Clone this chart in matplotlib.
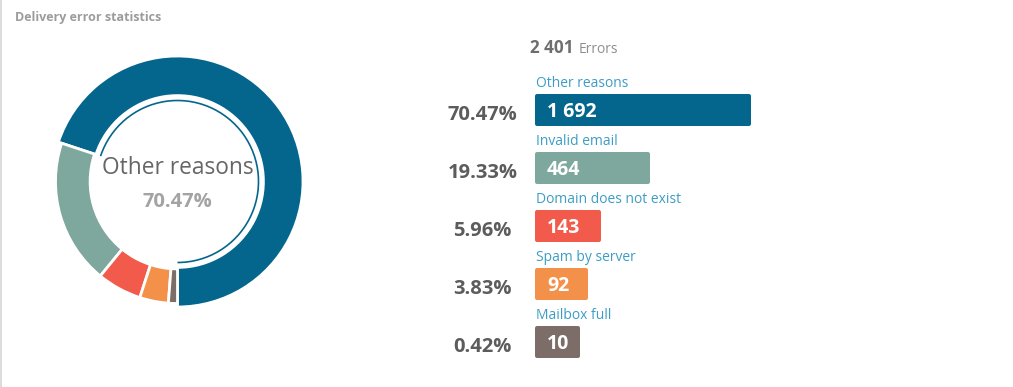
import matplotlib
matplotlib.use("Agg")
import matplotlib.pyplot as plt
import numpy as np
from matplotlib.patches import Arc
from matplotlib.lines import Line2D

# data
categories = ["Other reasons", "Invalid email", "Domain does not exist", "Spam by server", "Mailbox full"]
counts = [1692, 464, 143, 92, 10]
colors = ["#05668d", "#7ea79d", "#f25a4c", "#f39049", "#7c6d69"]

total = sum(counts)
shares = [c / total * 100 for c in counts]

def fmt_num(v):
    return f"{v:,}".replace(",", " ")

W, H = 1013, 387
PX = 0.72  # points per pixel at dpi 100

plt.rcParams['font.family'] = ['Open Sans', 'DejaVu Sans']

fig = plt.figure(figsize=(W / 100, H / 100), dpi=100)
fig.patch.set_facecolor("white")

# left border of the panel
fig.add_artist(Line2D([1 / W, 1 / W], [0, 1], color="#dcdcdc", lw=1.5))

fig.text(15 / W, 1 - 21 / H, "Delivery error statistics", fontsize=9, fontweight="bold",
         color="#9c9c9c", va="baseline", ha="left")

# ---- donut ----
cx, cy, half = 177.5, 181.5, 140
ax_p = fig.add_axes([(cx - half) / W, (H - cy - half) / H, 2 * half / W, 2 * half / H])
R, ring = 122, 34.6
# tiny slices get a minimum angle so they stay visible between the gaps
slice_vals = [max(c, 0.012 * total) for c in counts]
wedges, _ = ax_p.pie(slice_vals, colors=colors, radius=R, startangle=-90, counterclock=True,
                     wedgeprops=dict(width=ring, edgecolor="white", linewidth=2.0))
# highlighted slice (the largest one)
top = int(np.argmax(counts))
wedges[top].set_radius(R + 3.5)
wedges[top].set_width(ring + 5)
ax_p.add_patch(Arc((0, 0), 2 * 81, 2 * 81, theta1=wedges[top].theta1, theta2=wedges[top].theta2,
                   color=colors[top], lw=1.2))
ax_p.set_xlim(-half, half)
ax_p.set_ylim(-half, half)
ax_p.set_aspect("equal")
ax_p.axis("off")

ax_p.text(0, 7.5, categories[top], fontsize=16.4, color="#666666", ha="center", va="baseline")
ax_p.text(0, -25.2, f"{shares[top]:.2f}%", fontsize=14.5, fontweight="bold", color="#a3a3a3",
          ha="center", va="baseline")

# ---- bars ----
fig.text(530 / W, 1 - 53.3 / H, fmt_num(total), fontsize=12.3, fontweight="bold",
         color="#6e6e6e", ha="left", va="baseline")
fig.text(579 / W, 1 - 53.3 / H, "Errors", fontsize=10, color="#8e8e8e", ha="left", va="baseline")

row_px = 58
bx0, bx1 = 537, 749
by_top = 110 - row_px / 2
n = len(counts)
ax_b = fig.add_axes([bx0 / W, (H - by_top - n * row_px) / H, (bx1 - bx0) / W, n * row_px / H])
ax_b.set_xscale("function", functions=(lambda x: np.sqrt(np.clip(x, 0, None)), np.square))
ax_b.set_xlim(0, max(counts))
ax_b.set_ylim(n - 0.5, -0.5)
ax_b.axis("off")

min_len = 0.0375 * max(counts)  # keep room for the label in tiny bars
shown = [max(c, min_len) for c in counts]
ypos = np.arange(n)
bars = ax_b.barh(ypos, shown, height=(32 - 4) / row_px, color=colors, edgecolor=colors,
                 linewidth=4 * PX, clip_on=False)
for b in bars:
    b.set_joinstyle("round")

for i in range(n):
    ax_b.annotate(categories[i], xy=(0, i), xytext=(-1 * PX, 22.7 * PX), textcoords="offset points",
                  fontsize=10, color="#3d9dc4", ha="left", va="baseline", annotation_clip=False)
    ax_b.annotate(fmt_num(counts[i]), xy=(0, i), xytext=(10 * PX, -7.3 * PX), textcoords="offset points",
                  fontsize=14, fontweight="bold", color="white", ha="left", va="baseline",
                  annotation_clip=False)
    ax_b.annotate(f"{shares[i]:.2f}%", xy=(0, i), xytext=(-54.5 * PX, -9.5 * PX), textcoords="offset points",
                  fontsize=14.5, fontweight="bold", color="#5c5c5c", ha="center", va="baseline",
                  annotation_clip=False)

fig.savefig("out.png", dpi=100, facecolor="white")
